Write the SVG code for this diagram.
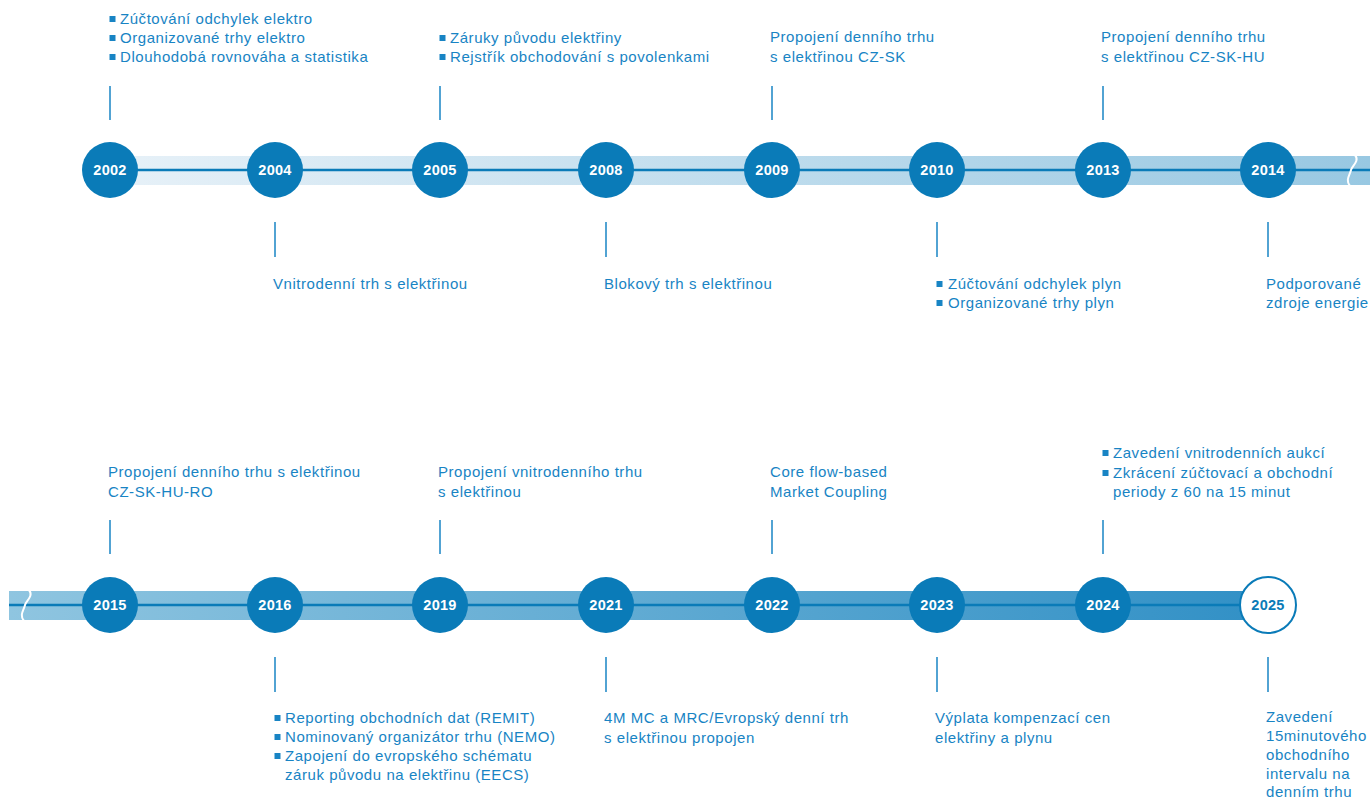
<svg xmlns="http://www.w3.org/2000/svg" width="1370" height="800" viewBox="0 0 1370 800">
<defs>
<linearGradient id="g1" gradientUnits="userSpaceOnUse" x1="110" y1="0" x2="1370" y2="0">
<stop offset="0" stop-color="#e7f1f8"/><stop offset="1" stop-color="#98c8e2"/>
</linearGradient>
<linearGradient id="g2" gradientUnits="userSpaceOnUse" x1="9" y1="0" x2="1245" y2="0">
<stop offset="0" stop-color="#8fc5e0"/><stop offset="1" stop-color="#3391c6"/>
</linearGradient>
<style>
.t{font-family:"Liberation Sans",Arial,sans-serif;font-size:15px;letter-spacing:0.55px;fill:#1884c4}
.y{font-family:"Liberation Sans",Arial,sans-serif;font-size:14.5px;font-weight:bold;letter-spacing:0.3px;fill:#fff;text-anchor:middle}
.c{fill:#0a7bb8}
.tick{stroke:#1884c4;stroke-width:1.5}
.b{fill:#1884c4}
.axis{stroke:#0a7bb8;stroke-width:2.5}
.brk{fill:none;stroke:#fff;stroke-width:2}
</style>
</defs>
<g id="bands">
<rect x="110" y="156" width="1260" height="29" fill="url(#g1)"/>
<rect x="9" y="591" width="1236" height="29" fill="url(#g2)"/>
</g>
<g id="connectors">
<line class="axis" x1="110" y1="170" x2="1370" y2="170"/>
<line class="axis" x1="9" y1="605" x2="1245" y2="605"/>
<path class="brk" d="M1355,155 C1360,161 1352,166 1351,170 C1350,175 1345,180 1350,186"/>
<path class="brk" d="M29,590 C34,596 26,601 25,605 C24,610 19,615 24,621"/>
<line class="tick" x1="110" y1="86" x2="110" y2="120"/>
<line class="tick" x1="275" y1="222" x2="275" y2="257"/>
<line class="tick" x1="440" y1="86" x2="440" y2="120"/>
<line class="tick" x1="606" y1="222" x2="606" y2="257"/>
<line class="tick" x1="772" y1="86" x2="772" y2="120"/>
<line class="tick" x1="937" y1="222" x2="937" y2="257"/>
<line class="tick" x1="1103" y1="86" x2="1103" y2="120"/>
<line class="tick" x1="1268" y1="222" x2="1268" y2="257"/>
<line class="tick" x1="110" y1="520" x2="110" y2="554"/>
<line class="tick" x1="275" y1="657" x2="275" y2="692"/>
<line class="tick" x1="440" y1="520" x2="440" y2="554"/>
<line class="tick" x1="606" y1="657" x2="606" y2="692"/>
<line class="tick" x1="772" y1="520" x2="772" y2="554"/>
<line class="tick" x1="937" y1="657" x2="937" y2="692"/>
<line class="tick" x1="1103" y1="520" x2="1103" y2="554"/>
<line class="tick" x1="1268" y1="657" x2="1268" y2="692"/>
</g>
<g id="n2002">
<circle class="c" cx="110" cy="170" r="28"/><text class="y" x="110" y="175">2002</text>
<rect class="b" x="109.5" y="16" width="6" height="6"/><text class="t" x="120" y="24">Zúčtování odchylek elektro</text>
<rect class="b" x="109.5" y="35" width="6" height="6"/><text class="t" x="120" y="43">Organizované trhy elektro</text>
<rect class="b" x="109.5" y="54" width="6" height="6"/><text class="t" x="120" y="62">Dlouhodobá rovnováha a statistika</text>
</g>
<g id="n2004">
<circle class="c" cx="275" cy="170" r="28"/><text class="y" x="275" y="175">2004</text>
<text class="t" x="273" y="289">Vnitrodenní trh s elektřinou</text>
</g>
<g id="n2005">
<circle class="c" cx="440" cy="170" r="28"/><text class="y" x="440" y="175">2005</text>
<rect class="b" x="439.5" y="35" width="6" height="6"/><text class="t" x="450" y="43">Záruky původu elektřiny</text>
<rect class="b" x="439.5" y="54" width="6" height="6"/><text class="t" x="450" y="62">Rejstřík obchodování s povolenkami</text>
</g>
<g id="n2008">
<circle class="c" cx="606" cy="170" r="28"/><text class="y" x="606" y="175">2008</text>
<text class="t" x="604" y="289">Blokový trh s elektřinou</text>
</g>
<g id="n2009">
<circle class="c" cx="772" cy="170" r="28"/><text class="y" x="772" y="175">2009</text>
<text class="t" x="770" y="42">Propojení denního trhu</text>
<text class="t" x="770" y="62">s elektřinou CZ-SK</text>
</g>
<g id="n2010">
<circle class="c" cx="937" cy="170" r="28"/><text class="y" x="937" y="175">2010</text>
<rect class="b" x="936.5" y="281" width="6" height="6"/><text class="t" x="948" y="289">Zúčtování odchylek plyn</text>
<rect class="b" x="936.5" y="300" width="6" height="6"/><text class="t" x="948" y="308">Organizované trhy plyn</text>
</g>
<g id="n2013">
<circle class="c" cx="1103" cy="170" r="28"/><text class="y" x="1103" y="175">2013</text>
<text class="t" x="1101" y="42">Propojení denního trhu</text>
<text class="t" x="1101" y="62">s elektřinou CZ-SK-HU</text>
</g>
<g id="n2014">
<circle class="c" cx="1268" cy="170" r="28"/><text class="y" x="1268" y="175">2014</text>
<text class="t" x="1266" y="289">Podporované</text>
<text class="t" x="1266" y="308">zdroje energie</text>
</g>
<g id="n2015">
<circle class="c" cx="110" cy="605" r="28"/><text class="y" x="110" y="610">2015</text>
<text class="t" x="108" y="477">Propojení denního trhu s elektřinou</text>
<text class="t" x="108" y="497">CZ-SK-HU-RO</text>
</g>
<g id="n2016">
<circle class="c" cx="275" cy="605" r="28"/><text class="y" x="275" y="610">2016</text>
<rect class="b" x="274.5" y="715" width="6" height="6"/><text class="t" x="285" y="723">Reporting obchodních dat (REMIT)</text>
<rect class="b" x="274.5" y="734" width="6" height="6"/><text class="t" x="285" y="742">Nominovaný organizátor trhu (NEMO)</text>
<rect class="b" x="274.5" y="753" width="6" height="6"/><text class="t" x="285" y="761">Zapojení do evropského schématu</text>
<text class="t" x="285" y="780">záruk původu na elektřinu (EECS)</text>
</g>
<g id="n2019">
<circle class="c" cx="440" cy="605" r="28"/><text class="y" x="440" y="610">2019</text>
<text class="t" x="438" y="477">Propojení vnitrodenního trhu</text>
<text class="t" x="438" y="497">s elektřinou</text>
</g>
<g id="n2021">
<circle class="c" cx="606" cy="605" r="28"/><text class="y" x="606" y="610">2021</text>
<text class="t" x="604" y="723">4M MC a MRC/Evropský denní trh</text>
<text class="t" x="604" y="743">s elektřinou propojen</text>
</g>
<g id="n2022">
<circle class="c" cx="772" cy="605" r="28"/><text class="y" x="772" y="610">2022</text>
<text class="t" x="770" y="477">Core flow-based</text>
<text class="t" x="770" y="497">Market Coupling</text>
</g>
<g id="n2023">
<circle class="c" cx="937" cy="605" r="28"/><text class="y" x="937" y="610">2023</text>
<text class="t" x="935" y="723">Výplata kompenzací cen</text>
<text class="t" x="935" y="743">elektřiny a plynu</text>
</g>
<g id="n2024">
<circle class="c" cx="1103" cy="605" r="28"/><text class="y" x="1103" y="610">2024</text>
<rect class="b" x="1102.5" y="450" width="6" height="6"/><text class="t" x="1113" y="458">Zavedení vnitrodenních aukcí</text>
<rect class="b" x="1102.5" y="470" width="6" height="6"/><text class="t" x="1113" y="478">Zkrácení zúčtovací a obchodní</text>
<text class="t" x="1113" y="497">periody z 60 na 15 minut</text>
</g>
<g id="n2025">
<circle cx="1268" cy="605" r="28" fill="#fff" stroke="#0a7bb8" stroke-width="2"/><text class="y" x="1268" y="610" style="fill:#0a7bb8">2025</text>
<text class="t" x="1266" y="722">Zavedení</text>
<text class="t" x="1266" y="741">15minutového</text>
<text class="t" x="1266" y="760">obchodního</text>
<text class="t" x="1266" y="779">intervalu na</text>
<text class="t" x="1266" y="797">denním trhu</text>
</g>
</svg>
